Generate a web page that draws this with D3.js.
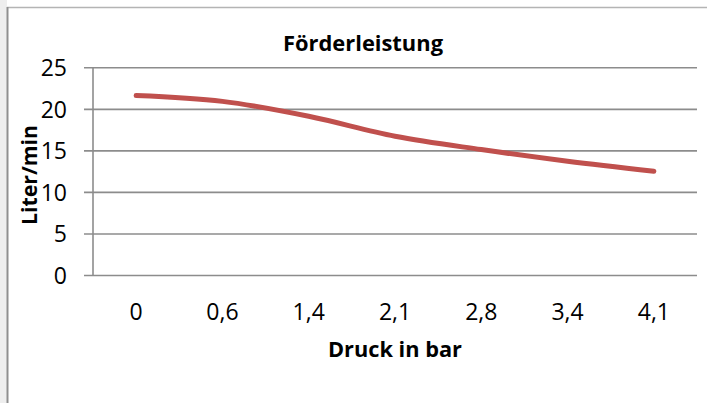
<!DOCTYPE html>
<html>
<head>
<meta charset="utf-8">
<script src="https://cdn.jsdelivr.net/npm/d3@7"></script>
<style>
  html, body { margin: 0; padding: 0; background: #fff; }
  svg { display: block; }
  text { font-family: "Open Sans", Lato, sans-serif; fill: #000; }
</style>
</head>
<body>
<svg id="chart" width="707" height="403"></svg>
<script>
const categories = ["0", "0,6", "1,4", "2,1", "2,8", "3,4", "4,1"];
const values = [21.6, 20.9, 19.1, 16.7, 15.1, 13.7, 12.5];
const yTicks = [0, 5, 10, 15, 20, 25];
const chartTitle = "Förderleistung";
const xTitle = "Druck in bar";
const yTitle = "Liter/min";

const svg = d3.select("#chart");
const W = 707, H = 403;

// frame
svg.append("rect").attr("x", 0).attr("y", 0).attr("width", 7).attr("height", H).attr("fill", "#eeeeee");
svg.append("line").attr("x1", 7).attr("x2", W).attr("y1", 7.5).attr("y2", 7.5)
  .attr("stroke", "#b4b4b4").attr("stroke-width", 1.5);
svg.append("line").attr("x1", 7.5).attr("x2", 7.5).attr("y1", 7).attr("y2", H)
  .attr("stroke", "#8f8f8f").attr("stroke-width", 2);

const plot = { left: 93, right: 697, top: 67.3, bottom: 275 };

const x = d3.scaleBand().domain(categories).range([plot.left, plot.right]).padding(0);
const y = d3.scaleLinear().domain([0, 25]).range([plot.bottom, plot.top]);

// gridlines + y axis via d3.axisLeft
const yAxis = d3.axisLeft(y).tickValues(yTicks).tickSize(-(plot.right - plot.left)).tickFormat(d => d);
const gy = svg.append("g").attr("transform", `translate(${plot.left},0)`).call(yAxis);
gy.select(".domain").remove();
gy.selectAll(".tick line").attr("stroke", "#8c8c8c").attr("stroke-width", 1.6)
  .attr("x1", -9);
gy.selectAll(".tick text").attr("x", -26).attr("dy", "0.36em")
  .style("font-size", "23px").style("font-family", "'Open Sans', sans-serif").attr("fill", "#000");

// vertical axis line
svg.append("line").attr("x1", plot.left).attr("x2", plot.left)
  .attr("y1", plot.top).attr("y2", plot.bottom)
  .attr("stroke", "#8c8c8c").attr("stroke-width", 1.6);

// x axis labels
const xAxis = d3.axisBottom(x).tickSize(0).tickPadding(0);
const gx = svg.append("g").attr("transform", `translate(0,${plot.bottom})`).call(xAxis);
gx.select(".domain").remove();
gx.selectAll(".tick text").attr("y", 45).attr("dy", 0)
  .style("font-size", "23px").style("font-family", "'Open Sans', sans-serif").attr("fill", "#000");

// line
const line = d3.line()
  .x((d, i) => x(categories[i]) + x.bandwidth() / 2)
  .y(d => y(d))
  .curve(d3.curveCatmullRom.alpha(0.5));
svg.append("path").datum(values).attr("d", line)
  .attr("fill", "none").attr("stroke", "#C0504D").attr("stroke-width", 5)
  .attr("stroke-linecap", "round").attr("stroke-linejoin", "round");

// titles
svg.append("text").attr("x", 363).attr("y", 51).attr("text-anchor", "middle")
  .attr("textLength", 160).attr("lengthAdjust", "spacingAndGlyphs")
  .style("font-size", "21px").style("font-weight", "bold").text(chartTitle);
svg.append("text").attr("x", 395).attr("y", 357).attr("text-anchor", "middle")
  .attr("textLength", 134).attr("lengthAdjust", "spacingAndGlyphs")
  .style("font-size", "21px").style("font-weight", "bold").text(xTitle);
svg.append("text").attr("transform", "translate(37,175) rotate(-90)").attr("text-anchor", "middle")
  .attr("textLength", 100).attr("lengthAdjust", "spacingAndGlyphs")
  .style("font-size", "21px").style("font-weight", "bold").text(yTitle);
</script>
</body>
</html>
